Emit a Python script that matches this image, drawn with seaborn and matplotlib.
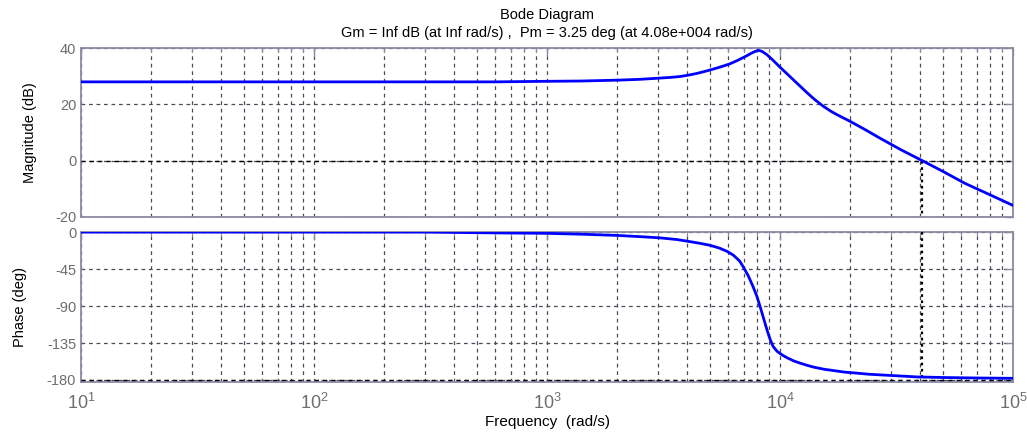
import numpy as np
import matplotlib
matplotlib.use("Agg")
import matplotlib.pyplot as plt
import seaborn as sns
from matplotlib.ticker import LogLocator, FixedLocator, NullFormatter

# Magnitude response (rad/s, dB)
mag_freq = [10, 100, 600, 1000, 1400, 2000, 2500, 3000, 3400, 3720, 4050, 4400,
            4800, 5150, 5600, 6090, 6600, 7210, 7500, 7810, 8100, 8380, 8800,
            9300, 10000, 10800, 11830, 13000, 14000, 15300, 16500, 17500, 19960,
            23000, 26840, 33000, 40800, 50000, 62000, 80000, 100000]
mag_db = [28, 28, 28, 28.2, 28.3, 28.6, 28.9, 29.3, 29.6, 29.9, 30.4, 31.0,
          31.8, 32.5, 33.4, 34.4, 35.7, 37.3, 38.1, 38.8, 39.2, 38.8, 37.6,
          35.8, 33.2, 30.6, 27.5, 24.3, 21.9, 19.4, 17.6, 16.4, 14.0,
          11.2, 8.0, 3.9, 0, -3.8, -8.0, -12.2, -15.9]

# Phase response (rad/s, deg)
ph_freq = [10, 300, 628, 1000, 1387, 1995, 2500, 3055, 3600, 3990, 4500, 5000,
           5500, 5930, 6300, 6700, 6940, 7300, 7650, 7950, 8200, 8500, 8790,
           9050, 9330, 9700, 10200, 10720, 11500, 12190, 13000, 14000, 15500,
           16900, 19000, 21000, 24000, 27700, 33000, 38700, 50000, 70000, 100000]
ph_deg = [0, 0, -1, -1.5, -2.5, -4, -5.5, -7, -9, -11, -13.5, -16,
          -19.5, -23.5, -28, -35, -42, -53, -66, -78, -90, -105, -119,
          -130, -139, -145, -149.5, -153, -157, -159.5, -162, -164.5, -167,
          -168.5, -170.5, -171.5, -173, -174, -175.2, -176.3, -177, -177.6, -178]

# Stability margins
pm_freq = 4.08e4
pm_phase = -176.75

mag_ticks = [-20, 0, 20, 40]
ph_ticks = [-180, -135, -90, -45, 0]
freq_ticks = [1e1, 1e2, 1e3, 1e4, 1e5]
freq_tick_labels = [r"$10^{1}$", r"$10^{2}$", r"$10^{3}$", r"$10^{4}$", r"$10^{5}$"]

sns.set_style("white")
plt.rcParams["font.family"] = ["Liberation Sans", "DejaVu Sans"]
plt.rcParams["axes.unicode_minus"] = False
plt.rcParams["mathtext.fontset"] = "custom"
plt.rcParams["mathtext.rm"] = "Liberation Sans"
plt.rcParams["mathtext.it"] = "Liberation Sans"

spine_col = "#8a8aa6"
tick_col = "#6e6e6e"
grid_col = "#4a4a58"

fig = plt.figure(figsize=(10.27, 4.32), dpi=100)
ax_m = fig.add_axes([0.0789, 0.4977, 0.9075, 0.391])
ax_p = fig.add_axes([0.0789, 0.1157, 0.9075, 0.347])

sns.lineplot(x=mag_freq, y=mag_db, ax=ax_m, color="#0000ff", lw=2.0, zorder=5)
sns.lineplot(x=ph_freq, y=ph_deg, ax=ax_p, color="#0000ff", lw=2.0, zorder=5)

for ax in (ax_m, ax_p):
    ax.set_xscale("log")
    ax.set_xlim(1e1, 1e5)
    ax.xaxis.set_major_locator(FixedLocator(freq_ticks))
    ax.xaxis.set_minor_locator(LogLocator(base=10, subs=np.arange(2, 10), numticks=20))
    ax.xaxis.set_minor_formatter(NullFormatter())
    ax.grid(True, which="major", color=grid_col, lw=0.9, ls=(0, (3, 3)))
    ax.grid(True, which="minor", axis="x", color=grid_col, lw=0.9, ls=(0, (3, 3)))
    ax.tick_params(which="both", direction="in", top=True, right=True,
                   colors=spine_col, labelcolor=tick_col, labelsize=10.5)
    ax.tick_params(which="major", length=6, width=1)
    ax.tick_params(which="minor", length=3, width=0.8)
    for s in ax.spines.values():
        s.set_color(spine_col)
        s.set_linewidth(1.3)
    ax.set_xlabel("")
    ax.set_ylabel("")

# Magnitude axes
ax_m.set_ylim(-20, 40)
ax_m.yaxis.set_major_locator(FixedLocator(mag_ticks))
ax_m.set_yticklabels([str(t) for t in mag_ticks])
ax_m.set_xticklabels([])
ax_m.axhline(0, color="black", lw=1.0, ls=(0, (3, 3)), zorder=3)
ax_m.plot([pm_freq, pm_freq], [0, -20], color="black", lw=1.6, ls=(0, (1.2, 1.6)), zorder=4)
ax_m.set_ylabel("Magnitude (dB)", fontsize=10.5, color="black", labelpad=13)

# Phase axes
ax_p.set_ylim(-182.5, 0)
ax_p.yaxis.set_major_locator(FixedLocator(ph_ticks))
ax_p.set_yticklabels([str(t) for t in ph_ticks])
ax_p.set_xticklabels(freq_tick_labels, fontsize=13)
ax_p.tick_params(axis="x", which="major", pad=8)
ax_p.axhline(-180, color="black", lw=1.0, ls=(0, (3, 3)), zorder=3)
ax_p.plot([pm_freq, pm_freq], [0, pm_phase], color="black", lw=1.6, ls=(0, (1.2, 1.6)), zorder=4)
ax_p.set_ylabel("Phase (deg)", fontsize=10.5, color="black", labelpad=14)
ax_p.set_xlabel("Frequency  (rad/s)", fontsize=11, color="black", labelpad=1)

ax_m.set_title("Bode Diagram\nGm = Inf dB (at Inf rad/s) ,  Pm = 3.25 deg (at 4.08e+004 rad/s)",
               fontsize=10.5, color="black", pad=8, linespacing=1.35)

fig.savefig("out.png", dpi=100, facecolor="white")
